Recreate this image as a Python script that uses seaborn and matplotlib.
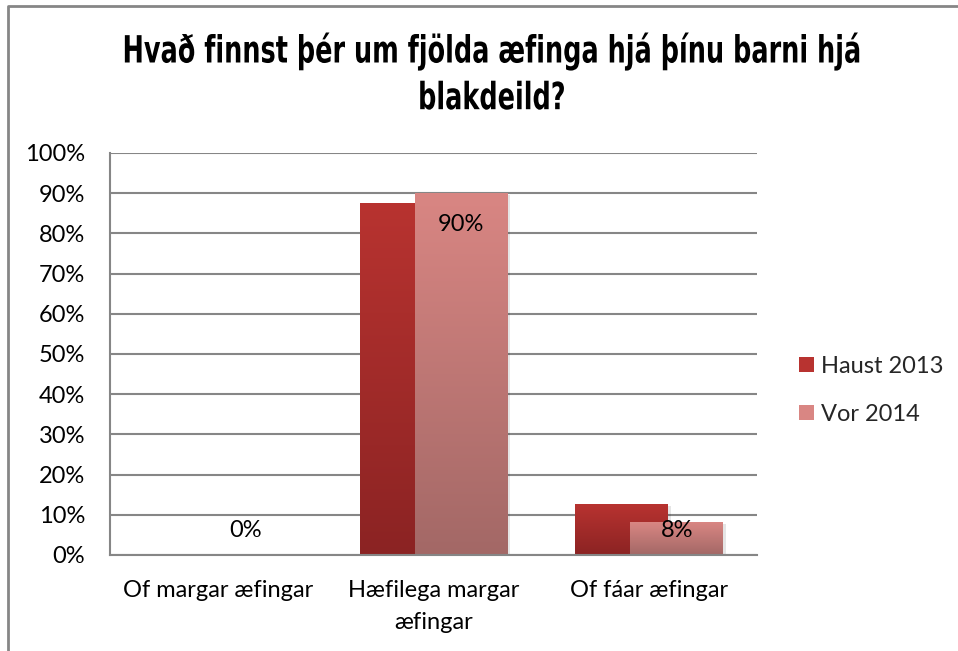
import numpy as np
import pandas as pd
import seaborn as sns
import matplotlib.pyplot as plt
from matplotlib import patheffects
from matplotlib.transforms import Affine2D
from matplotlib.colors import LinearSegmentedColormap
from matplotlib.patches import Patch
from matplotlib.lines import Line2D
from matplotlib.ticker import PercentFormatter

# data
categories = ['Of margar æfingar', 'Hæfilega margar\næfingar', 'Of fáar æfingar']
series = ['Haust 2013', 'Vor 2014']
haust_2013 = [0.0, 0.875, 0.125]
vor_2014 = [0.0, 0.90, 0.08]
vor_labels = ['0%', '90%', '8%']

top_colors = {'Haust 2013': '#b83330', 'Vor 2014': '#d98683'}
bottom_colors = {'Haust 2013': '#8b2323', 'Vor 2014': '#a36866'}


class Condensed(patheffects.AbstractPathEffect):
    # imitates a tall condensed font: narrower around the centre of each
    # line, taller above the baseline
    def __init__(self, sx, sy):
        super().__init__()
        self.sx = sx
        self.sy = sy

    def draw_path(self, renderer, gc, tpath, affine, rgbFace=None):
        m = affine.get_matrix().copy()
        ext = tpath.get_extents()
        cx = (ext.x0 + ext.x1) / 2
        m[0, 2] += m[0, 0] * cx * (1 - self.sx)
        m[0, 0] *= self.sx
        m[1, 1] *= self.sy
        renderer.draw_path(gc, tpath, Affine2D(m), rgbFace)


df = pd.DataFrame({
    'category': categories * 2,
    'series': [series[0]] * 3 + [series[1]] * 3,
    'value': haust_2013 + vor_2014,
})

sns.set_theme(style='white')
plt.rcParams['font.family'] = ['Lato', 'DejaVu Sans']

fig = plt.figure(figsize=(9.58, 6.51), dpi=100)
ax = fig.add_axes([0.1148, 0.1475, 0.6755, 0.6175])

sns.barplot(data=df, x='category', y='value', hue='series', palette=top_colors,
            width=0.86, legend=False, ax=ax)

# excel style: overlapping bars with a vertical gradient
offset = 0.1275
grad = np.linspace(0, 1, 256).reshape(-1, 1)
vor_centres = []
for i, p in enumerate(ax.patches):
    s = series[i // len(categories)]
    k = i % len(categories)
    w = p.get_width()
    cx = k + (-offset if s == series[0] else offset)
    p.set_x(cx - w / 2)
    p.set_visible(False)
    if s == series[1]:
        vor_centres.append(cx)
    h = p.get_height()
    if h <= 0:
        continue
    cmap = LinearSegmentedColormap.from_list(s, [top_colors[s], bottom_colors[s]])
    z = 2 if s == series[0] else 2.1
    # soft shadow
    ax.bar(cx + 0.012, h, width=w, bottom=-0.004, color='black', alpha=0.10,
           zorder=z - 0.05, linewidth=0)
    ax.imshow(grad, extent=(cx - w / 2, cx + w / 2, 0, h), cmap=cmap, aspect='auto',
              interpolation='bicubic', zorder=z)

for cx, v, lab in zip(vor_centres, vor_2014, vor_labels):
    ax.text(cx, max(v - 0.077, 0.062), lab, ha='center', va='center', fontsize=17,
            color='black', zorder=5)

ax.set_xlim(-0.5, 2.5)
ax.set_ylim(0, 1)
ax.set_yticks(np.arange(0, 1.01, 0.1))
ax.yaxis.set_major_formatter(PercentFormatter(1.0, decimals=0))
ax.set_xlabel('')
ax.set_ylabel('')
ax.set_axisbelow(True)
ax.yaxis.grid(True, color='#868686', linewidth=1.5)
for side in ['top', 'right']:
    ax.spines[side].set_visible(False)
for side in ['left', 'bottom']:
    ax.spines[side].set_color('#868686')
    ax.spines[side].set_linewidth(1.5)
ax.tick_params(axis='y', length=0, pad=18, labelsize=17, labelcolor='black')
ax.tick_params(axis='x', length=0, pad=18, labelsize=17, labelcolor='black')
for t in ax.get_xticklabels():
    t.set_linespacing(1.65)

handles = [Patch(facecolor=top_colors[s], edgecolor='none') for s in series]
fig.legend(handles, series, loc='center left', bbox_to_anchor=(0.834, 0.4005),
           frameon=False, fontsize=17, handlelength=0.65, handleheight=0.65,
           handletextpad=0.3, labelspacing=1.15, borderpad=0, borderaxespad=0)

fig.text(492 / 958, 1 - 39 / 651,
         'Hvað finnst þér um fjölda æfinga hjá þínu barni hjá\nblakdeild?',
         ha='center', va='top', fontsize=20, fontweight='bold',
         family='DejaVu Sans', linespacing=1.85, color='black',
         path_effects=[Condensed(0.92, 1.35)])

# chart frame (top and left edges visible)
fig.add_artist(Line2D([8 / 958, 8 / 958, 1.0], [0, 1 - 6 / 651, 1 - 6 / 651],
                      transform=fig.transFigure, color='#868686', linewidth=2))

fig.savefig('out.png', dpi=100)
